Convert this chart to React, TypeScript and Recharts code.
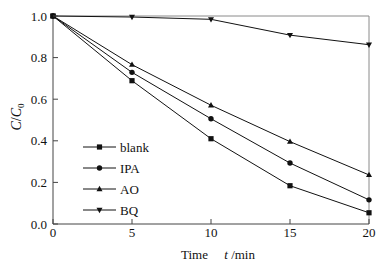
import { LineChart, Line, XAxis, YAxis, Legend, ReferenceLine, Label } from "recharts";

const times = [0, 5, 10, 15, 20];
const blank = [1.0, 0.689, 0.41, 0.184, 0.054];
const ipa = [1.0, 0.729, 0.506, 0.293, 0.116];
const ao = [1.0, 0.766, 0.571, 0.396, 0.236];
const bq = [1.0, 0.995, 0.984, 0.908, 0.862];

const xTicks = [0, 5, 10, 15, 20];
const yTicks = [0, 0.1, 0.2, 0.3, 0.4, 0.5, 0.6, 0.7, 0.8, 0.9, 1.0];

const data = times.map((t, i) => ({ t, blank: blank[i], ipa: ipa[i], ao: ao[i], bq: bq[i] }));

const FONT = "Liberation Serif, Times New Roman, serif";
const INK = "#111";
const AXIS = "#444";
const FRAME = "#8a8a8a";

type Shape = "square" | "circle" | "up" | "down";

const SERIES: { key: string; name: string; shape: Shape }[] = [
  { key: "blank", name: "blank", shape: "square" },
  { key: "ipa", name: "IPA", shape: "circle" },
  { key: "ao", name: "AO", shape: "up" },
  { key: "bq", name: "BQ", shape: "down" },
];

function Marker({ cx, cy, shape }: { cx: number; cy: number; shape: Shape }) {
  if (shape === "square") return <rect x={cx - 2.6} y={cy - 2.6} width={5.2} height={5.2} fill={INK} />;
  if (shape === "circle") return <circle cx={cx} cy={cy} r={2.7} fill={INK} />;
  if (shape === "up")
    return <path d={`M${cx},${cy - 3.2} L${cx + 3},${cy + 2.2} L${cx - 3},${cy + 2.2} Z`} fill={INK} />;
  return <path d={`M${cx},${cy + 3.2} L${cx + 3},${cy - 2.2} L${cx - 3},${cy - 2.2} Z`} fill={INK} />;
}

// inward ticks on the left axis, minor ones unlabeled
const YTick = (props: any) => {
  const { x, y, payload } = props;
  const ax = x + 6;
  const major = Math.round(payload.value * 10) % 2 === 0;
  return (
    <g>
      <line x1={ax} x2={ax + (major ? 5 : 3)} y1={y} y2={y} stroke={AXIS} />
      {major && (
        <text x={x} y={y} dy="0.35em" textAnchor="end" fontSize={13} style={{ fontFamily: FONT }} fill={INK}>
          {payload.value.toFixed(1)}
        </text>
      )}
    </g>
  );
};

const XTick = (props: any) => {
  const { x, y, payload } = props;
  const ay = y - 4;
  return (
    <g>
      <line x1={x} x2={x} y1={ay} y2={ay - 5} stroke={AXIS} />
      <text x={x} y={y} dy="0.71em" textAnchor="middle" fontSize={13} style={{ fontFamily: FONT }} fill={INK}>
        {payload.value}
      </text>
    </g>
  );
};

const LegendBox = () => (
  <svg width={90} height={84}>
    {SERIES.map((s, i) => {
      const cy = 10 + i * 21;
      return (
        <g key={s.key}>
          <line x1={3} x2={36} y1={cy} y2={cy} stroke={INK} />
          <Marker cx={19.5} cy={cy} shape={s.shape} />
          <text x={40} y={cy} dy="0.35em" fontSize={13} style={{ fontFamily: FONT }} fill={INK}>
            {s.name}
          </text>
        </g>
      );
    })}
  </svg>
);

export default function App() {
  return (
    <div style={{ position: "absolute", left: 0, top: 0, width: 388, height: 272, background: "#fff" }}>
      <LineChart width={388} height={272} data={data} margin={{ top: 16, right: 19, bottom: 0, left: 0 }}>
        <XAxis
          dataKey="t"
          type="number"
          domain={[0, 20]}
          ticks={xTicks}
          height={48}
          tickSize={0}
          tickMargin={4}
          tickLine={false}
          tick={<XTick />}
          stroke={AXIS}
        >
          <Label
            content={({ viewBox }: any) => (
              <text
                x={viewBox.x + viewBox.width / 2 + 7}
                y={viewBox.y + 35}
                textAnchor="middle"
                fontSize={13}
                fill={INK}
                style={{ whiteSpace: "pre", fontFamily: FONT }}
              >
                {"Time     "}
                <tspan fontStyle="italic">t</tspan>
                {" /min"}
              </text>
            )}
          />
        </XAxis>
        <YAxis
          type="number"
          domain={[0, 1]}
          ticks={yTicks}
          width={53}
          tickSize={0}
          tickMargin={6}
          tickLine={false}
          tick={<YTick />}
          stroke={AXIS}
        >
          <Label
            content={({ viewBox }: any) => {
              const cx = 16;
              const cy = viewBox.y + viewBox.height / 2 - 3;
              return (
                <text
                  x={cx}
                  y={cy}
                  transform={`rotate(-90 ${cx} ${cy})`}
                  textAnchor="middle"
                  dy="0.35em"
                  fontSize={14}
                  style={{ fontFamily: FONT }}
                  fill={INK}
                >
                  <tspan fontStyle="italic">C</tspan>
                  <tspan>/</tspan>
                  <tspan fontStyle="italic">C</tspan>
                  <tspan fontSize={9} dy={3}>0</tspan>
                </text>
              );
            }}
          />
        </YAxis>
        <ReferenceLine y={1} stroke={FRAME} ifOverflow="visible" />
        <ReferenceLine x={20} stroke={FRAME} ifOverflow="visible" />
        {SERIES.map((s) => (
          <Line
            key={s.key}
            dataKey={s.key}
            name={s.name}
            stroke={INK}
            strokeWidth={1}
            isAnimationActive={false}
            dot={(p: any) => <Marker key={`${s.key}-${p.index}`} cx={p.cx} cy={p.cy} shape={s.shape} />}
            activeDot={false}
          />
        ))}
        <Legend
          layout="vertical"
          align="center"
          verticalAlign="middle"
          content={<LegendBox />}
          wrapperStyle={{ left: 80, top: 137, width: 90 }}
        />
      </LineChart>
    </div>
  );
}
